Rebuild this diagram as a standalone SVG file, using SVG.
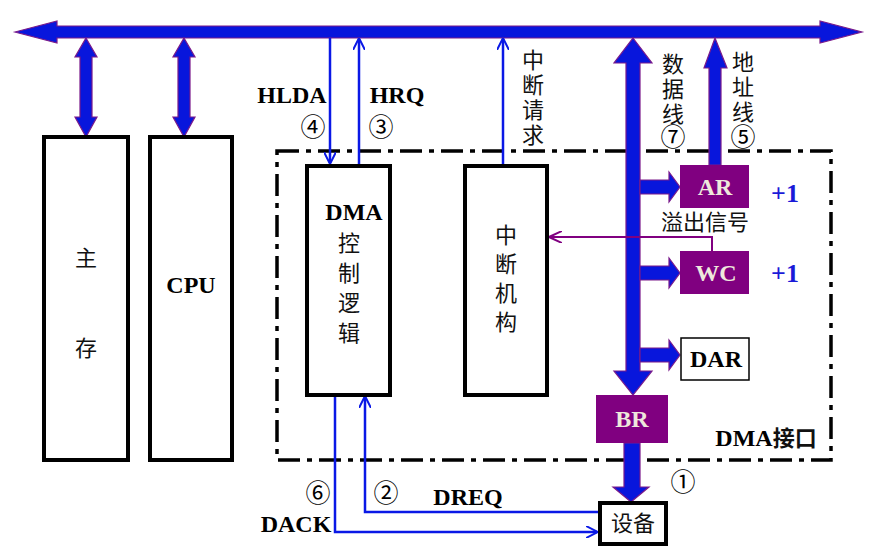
<svg xmlns="http://www.w3.org/2000/svg" width="887" height="552" viewBox="0 0 887 552">
<defs>
<style>
.bus{fill:#0816DC;stroke:#7A1A8A;stroke-width:1.2}
.box{fill:#fff;stroke:#000;stroke-width:4}
.pbox{fill:#800080}
.thin{fill:none;stroke:#0A18E6;stroke-width:2.5}
.lat{font-family:"Liberation Serif",serif;font-weight:bold;font-size:24px;fill:#000}
.cjk{font-family:"Noto Sans CJK SC",sans-serif;font-size:22px;fill:#111}
.vt{font-family:"Noto Sans CJK SC",sans-serif;font-size:22px;fill:#111;writing-mode:tb;letter-spacing:3px}
.wt{font-family:"Liberation Serif",serif;font-weight:bold;font-size:24px;fill:#EEE8DC}
.num{font-family:"Noto Sans CJK SC",sans-serif;font-size:25px;fill:#000}
.plus{font-family:"Liberation Serif",serif;font-weight:bold;font-size:26px;fill:#1A1AD8}
</style>
<marker id="ah" viewBox="0 0 12 12" refX="11" refY="6" markerWidth="12" markerHeight="12" markerUnits="userSpaceOnUse" orient="auto">
<path d="M0,0 L12,6 L0,12" fill="none" stroke="#0A18E6" stroke-width="2"/>
</marker>
<marker id="ahp" viewBox="0 0 14 12" refX="13" refY="6" markerWidth="14" markerHeight="12" markerUnits="userSpaceOnUse" orient="auto">
<path d="M0,0 L13,6 L0,12" fill="none" stroke="#800080" stroke-width="2"/>
</marker>
</defs>

<!-- DMA interface boundary -->
<rect id="dma-interface" x="277" y="151" width="554" height="309" fill="none" stroke="#000" stroke-width="3.5" stroke-dasharray="22 7 5 7"/>

<g id="connectors">
<polygon class="bus" points="15,32 57,21 57,26 820,26 820,21 862,32 820,43 820,38 57,38 57,43"/>
<polygon class="bus" points="86,38 97,57 92,57 92,117 97,117 86,137 75,117 80,117 80,57 75,57"/>
<polygon class="bus" points="184,38 195,57 190,57 190,117 195,117 184,137 173,117 178,117 178,57 173,57"/>
<polygon class="bus" points="633,38 652,63 640,63 640,371 652,371 633,395 614,371 626,371 626,63 614,63"/>
<polygon class="bus" points="715,38 727,68 721,68 721,165 709,165 709,68 704,68"/>
<polygon class="bus" points="640,180 669,180 669,172 680,187 669,202 669,194 640,194"/>
<polygon class="bus" points="640,266 669,266 669,258 680,273 669,288 669,280 640,280"/>
<polygon class="bus" points="640,348 669,348 669,340 680,355 669,370 669,362 640,362"/>
<polygon class="bus" points="624,443 640,443 640,487 649,487 631,502 613,487 624,487"/>
<line class="thin" x1="330" y1="38" x2="330" y2="163" marker-end="url(#ah)"/>
<line class="thin" x1="359" y1="164" x2="359" y2="39" marker-end="url(#ah)"/>
<line class="thin" x1="503" y1="164" x2="503" y2="39" marker-end="url(#ah)"/>
<polyline class="thin" points="335,396 335,532 597,532" marker-end="url(#ah)"/>
<polyline class="thin" points="598,512 365,512 365,397" marker-end="url(#ah)"/>
<polyline points="712,251 712,237 549,237" fill="none" stroke="#800080" stroke-width="2" marker-end="url(#ahp)"/>
</g>

<g id="memory">
<rect class="box" x="44" y="137" width="84" height="323"/>
<text class="cjk" x="86" y="266" text-anchor="middle">主</text>
<text class="cjk" x="86" y="356" text-anchor="middle">存</text>
</g>
<g id="cpu">
<rect class="box" x="150" y="137" width="82" height="323"/>
<text class="lat" x="191" y="293" text-anchor="middle" font-size="22">CPU</text>
</g>
<g id="dma-control">
<rect class="box" x="307" y="166" width="83" height="229"/>
<text class="lat" x="354" y="220" text-anchor="middle">DMA</text>
<text class="vt" x="349" y="232" style="letter-spacing:8px">控制逻辑</text>
</g>
<g id="interrupt">
<rect class="box" x="465" y="166" width="82" height="229"/>
<text class="vt" x="506" y="224" style="letter-spacing:7px">中断机构</text>
</g>
<g id="ar">
<rect class="pbox" x="680" y="165" width="69" height="43"/>
<text class="wt" x="715" y="195" text-anchor="middle">AR</text>
</g>
<g id="wc">
<rect class="pbox" x="680" y="251" width="69" height="43"/>
<text class="wt" x="716" y="281" text-anchor="middle">WC</text>
</g>
<g id="dar">
<rect x="681" y="338" width="68" height="42" fill="#fff" stroke="#000" stroke-width="1.5"/>
<text class="lat" x="716" y="367" text-anchor="middle">DAR</text>
</g>
<g id="br">
<rect class="pbox" x="596" y="395" width="72" height="48"/>
<text class="wt" x="632" y="427" text-anchor="middle">BR</text>
</g>
<g id="device">
<rect class="box" x="600" y="503" width="66" height="41"/>
<text class="cjk" x="633" y="531" text-anchor="middle">设备</text>
</g>

<g id="labels">
<text class="lat" x="292" y="103" text-anchor="middle">HLDA</text>
<text class="num" x="313" y="136" text-anchor="middle">④</text>
<text class="lat" x="397" y="103" text-anchor="middle">HRQ</text>
<text class="num" x="381" y="136" text-anchor="middle">③</text>
<text class="vt" x="533" y="49">中断请求</text>
<text class="vt" x="673" y="53">数据线</text>
<text class="num" x="673" y="146" text-anchor="middle">⑦</text>
<text class="vt" x="743" y="51">地址线</text>
<text class="num" x="743" y="146" text-anchor="middle">⑤</text>
<text class="plus" x="785" y="202" text-anchor="middle">+1</text>
<text class="plus" x="785" y="282" text-anchor="middle">+1</text>
<text class="cjk" x="705" y="230" text-anchor="middle" font-size="20">溢出信号</text>
<text x="766" y="446" text-anchor="middle"><tspan class="lat" font-size="23">DMA</tspan><tspan class="cjk" font-weight="bold">接口</tspan></text>
<text class="num" x="683" y="491" text-anchor="middle">①</text>
<text class="num" x="318" y="502" text-anchor="middle">⑥</text>
<text class="num" x="386" y="502" text-anchor="middle">②</text>
<text class="lat" x="468" y="505" text-anchor="middle">DREQ</text>
<text class="lat" x="296" y="532" text-anchor="middle">DACK</text>
</g>
</svg>
